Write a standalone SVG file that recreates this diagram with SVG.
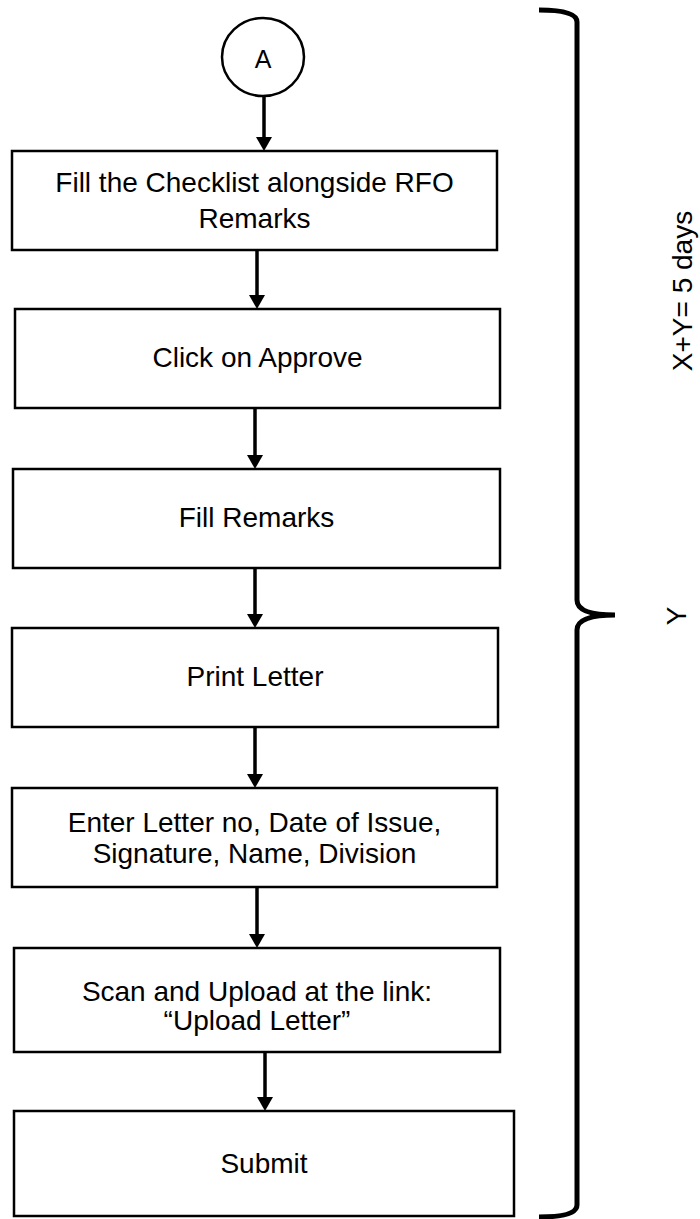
<svg xmlns="http://www.w3.org/2000/svg" width="700" height="1219" viewBox="0 0 700 1219">
<style>
.box{fill:#fff;stroke:#000;stroke-width:2.5}
.t{font-family:"Liberation Sans",Arial,sans-serif;font-size:28px;fill:#000;text-anchor:middle}
.conn{stroke:#000;stroke-width:3.5;fill:none}
</style>
<defs>
<marker id="ah" markerUnits="userSpaceOnUse" markerWidth="16" markerHeight="17" refX="0" refY="8" orient="auto" overflow="visible">
<path d="M0,0 L14,8 L0,16 Z" fill="#000"/>
</marker>
</defs>
<rect width="700" height="1219" fill="#fff"/>
<g id="nodeA">
<ellipse cx="263" cy="57" rx="41" ry="39" fill="#fff" stroke="#000" stroke-width="2.5"/>
<text class="t" x="263" y="68" style="font-size:25px">A</text>
</g>
<g id="n1">
<rect class="box" x="12" y="151" width="485" height="99"/>
<text class="t" x="254.5" y="192">Fill the Checklist alongside RFO</text>
<text class="t" x="254.5" y="228">Remarks</text>
</g>
<g id="n2">
<rect class="box" x="15" y="309" width="485" height="99"/>
<text class="t" x="257.5" y="367">Click on Approve</text>
</g>
<g id="n3">
<rect class="box" x="13" y="469" width="487" height="99"/>
<text class="t" x="256.5" y="527">Fill Remarks</text>
</g>
<g id="n4">
<rect class="box" x="12" y="628" width="486" height="99"/>
<text class="t" x="255" y="686">Print Letter</text>
</g>
<g id="n5">
<rect class="box" x="12" y="788" width="485" height="99"/>
<text class="t" x="254.5" y="832">Enter Letter no, Date of Issue,</text>
<text class="t" x="254.5" y="863">Signature, Name, Division</text>
</g>
<g id="n6">
<rect class="box" x="14" y="948" width="486" height="104"/>
<text class="t" x="257" y="1001">Scan and Upload at the link:</text>
<text class="t" x="257" y="1030">“Upload Letter”</text>
</g>
<g id="n7">
<rect class="box" x="14" y="1111" width="500" height="105"/>
<text class="t" x="264" y="1173">Submit</text>
</g>
<g id="connectors">
<line class="conn" x1="264" y1="96" x2="264" y2="137" marker-end="url(#ah)"/>
<line class="conn" x1="257" y1="250" x2="257" y2="295" marker-end="url(#ah)"/>
<line class="conn" x1="255" y1="408" x2="255" y2="455" marker-end="url(#ah)"/>
<line class="conn" x1="255" y1="568" x2="255" y2="614" marker-end="url(#ah)"/>
<line class="conn" x1="255" y1="727" x2="255" y2="774" marker-end="url(#ah)"/>
<line class="conn" x1="257" y1="887" x2="257" y2="934" marker-end="url(#ah)"/>
<line class="conn" x1="265" y1="1052" x2="265" y2="1097" marker-end="url(#ah)"/>
</g>
<g id="brace">
<path d="M539 10 Q577 10 577 22 L577 600 Q577 615 615 615 M615 615 Q577 615 577 630 L577 1205 Q577 1217 539 1217" fill="none" stroke="#000" stroke-width="5"/>
</g>
<g id="labels">
<text class="t" transform="translate(692,291) rotate(-90)" x="0" y="0">X+Y= 5 days</text>
<text class="t" transform="translate(686,616) rotate(-90)" x="0" y="0">Y</text>
</g>
</svg>
